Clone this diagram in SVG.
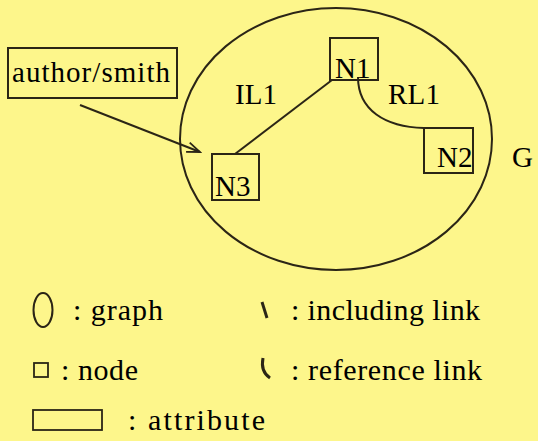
<svg xmlns="http://www.w3.org/2000/svg" width="538" height="441" viewBox="0 0 538 441">
<defs>
<marker id="ah" markerWidth="16" markerHeight="12" refX="14" refY="6" orient="auto" markerUnits="userSpaceOnUse">
<path d="M1,1 L14,6 L1,11" fill="none" stroke="#2b2516" stroke-width="1.8"/>
</marker>
</defs>
<rect width="538" height="441" fill="#fdf68b"/>
<g id="graph-G">
<ellipse cx="336" cy="139" rx="156" ry="131" fill="none" stroke="#2b2516" stroke-width="2"/>
<text x="512" y="167" font-size="29" font-family="Liberation Serif">G</text>
</g>
<g id="connectors">
<path id="IL1" d="M235,154 L332,80" fill="none" stroke="#2b2516" stroke-width="2"/>
<path id="RL1" d="M358,77 C358,110 385,127 424,128" fill="none" stroke="#2b2516" stroke-width="2"/>
<path id="attr-arrow" d="M80,105 L200,152" fill="none" stroke="#2b2516" stroke-width="2" marker-end="url(#ah)"/>
<text x="235" y="104" font-size="29" font-family="Liberation Serif" textLength="42">IL1</text>
<text x="388" y="104" font-size="29" font-family="Liberation Serif" textLength="52">RL1</text>
</g>
<g id="N1">
<rect x="330" y="38" width="48" height="42" fill="none" stroke="#2b2516" stroke-width="2"/>
<text x="335" y="78" font-size="29" font-family="Liberation Serif">N1</text>
</g>
<g id="N2">
<rect x="424" y="128" width="49" height="45" fill="none" stroke="#2b2516" stroke-width="2"/>
<text x="437" y="167" font-size="29" font-family="Liberation Serif">N2</text>
</g>
<g id="N3">
<rect x="212" y="154" width="47" height="46" fill="none" stroke="#2b2516" stroke-width="2"/>
<text x="215" y="196" font-size="29" font-family="Liberation Serif">N3</text>
</g>
<g id="attr-author">
<rect x="8" y="48" width="169" height="50" fill="none" stroke="#2b2516" stroke-width="2"/>
<text x="12" y="82" font-size="29" font-family="Liberation Serif" textLength="158">author/smith</text>
</g>
<g id="legend">
<ellipse cx="43" cy="310" rx="9.5" ry="17" fill="none" stroke="#2b2516" stroke-width="2"/>
<text x="73" y="320" font-size="30" font-family="Liberation Serif" textLength="90">: graph</text>
<path d="M262,302 L267,318" fill="none" stroke="#2b2516" stroke-width="3"/>
<text x="291" y="320" font-size="30" font-family="Liberation Serif" textLength="189">: including link</text>
<rect x="34" y="363" width="14" height="14" fill="none" stroke="#2b2516" stroke-width="1.8"/>
<text x="61" y="380" font-size="30" font-family="Liberation Serif" textLength="77">: node</text>
<path d="M263,358 C261,368 264,374 270,378" fill="none" stroke="#2b2516" stroke-width="3"/>
<text x="291" y="380" font-size="30" font-family="Liberation Serif" textLength="191">: reference link</text>
<rect x="33" y="410" width="69" height="20" fill="none" stroke="#2b2516" stroke-width="1.8"/>
<text x="128" y="430" font-size="30" font-family="Liberation Serif" textLength="137">: attribute</text>
</g>
</svg>
